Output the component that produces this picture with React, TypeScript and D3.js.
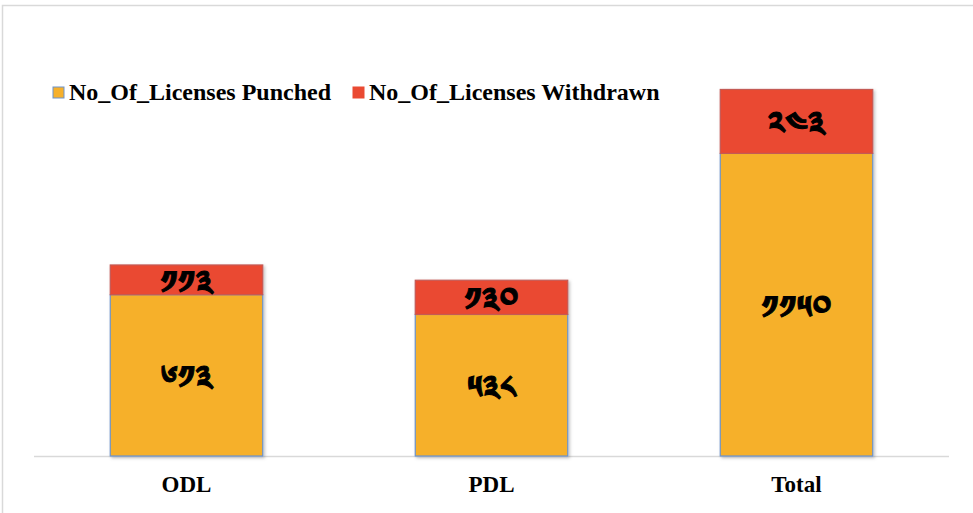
import React from "react";
import * as d3 from "d3";

const categories = ["ODL", "PDL", "Total"];
const punched = [613, 538, 1150];
const withdrawn = [113, 130, 243];
const punchedLabels = ["༦༡༣", "༥༣༨", "༡༡༥༠"];
const withdrawnLabels = ["༡༡༣", "༡༣༠", "༢༤༣"];
const seriesNames = ["No_Of_Licenses Punched", "No_Of_Licenses Withdrawn"];

const W = 973;
const H = 513;
const COLORS = { punched: "#F6B02B", withdrawn: "#EA4A32" };
const SERIF = "'Liberation Serif', 'Times New Roman', serif";
const TIB = "'Noto Sans Tibetan', 'Noto Serif Tibetan', 'Jomolhari', 'DejaVu Sans', sans-serif";

export default function App() {
  const x = d3
    .scaleBand<string>()
    .domain(categories)
    .range([34, 949])
    .paddingInner(0.5)
    .paddingOuter(0.25);
  const y = d3.scaleLinear().domain([0, 1600]).range([456, 35]);
  const bw = x.bandwidth();

  const numLabel = (key: string, cx: number, cy: number, txt: string) => (
    <text
      key={key}
      x={cx}
      y={cy}
      textAnchor="middle"
      dominantBaseline="central"
      fontFamily={TIB}
      fontSize={32}
      fontWeight="bold"
      fill="#000"
      stroke="#000"
      strokeWidth={1}
    >
      {txt}
    </text>
  );

  return (
    <svg
      width={W}
      height={H}
      style={{ position: "absolute", left: 0, top: 0, background: "#fff" }}
    >
      <defs>
        <filter id="shadow" x="-10%" y="-10%" width="130%" height="130%">
          <feDropShadow dx="1.5" dy="1.5" stdDeviation="1.5" floodColor="#000" floodOpacity="0.25" />
        </filter>
      </defs>
      {/* outer frame */}
      <rect x={2.5} y={5.5} width={1000} height={600} fill="none" stroke="#d9d9d9" strokeWidth={1.5} />

      {/* baseline */}
      <line x1={34} x2={949} y1={y(0) + 0.5} y2={y(0) + 0.5} stroke="#d9d9d9" strokeWidth={1.5} />

      {categories.map((c, i) => {
        const x0 = x(c)!;
        const p = punched[i];
        const w = withdrawn[i];
        return (
          <g key={c}>
            <g filter="url(#shadow)">
              <rect
                x={x0}
                y={y(p)}
                width={bw}
                height={y(0) - y(p)}
                fill={COLORS.punched}
                stroke="#6C93CC"
                strokeWidth={1.2}
              />
              <rect
                x={x0}
                y={y(p + w)}
                width={bw}
                height={y(p) - y(p + w)}
                fill={COLORS.withdrawn}
                stroke="#C45A55"
                strokeWidth={1.2}
              />
            </g>
            {numLabel("p", x0 + bw / 2, (y(0) + y(p)) / 2 + 11, punchedLabels[i])}
            {numLabel("w", x0 + bw / 2, (y(p) + y(p + w)) / 2 + 11, withdrawnLabels[i])}
            <text
              x={x0 + bw / 2}
              y={492}
              textAnchor="middle"
              fontFamily={SERIF}
              fontWeight="bold"
              fontSize={23}
              fill="#000"
            >
              {c}
            </text>
          </g>
        );
      })}

      {/* legend */}
      {seriesNames.map((s, i) => {
        const lx = i === 0 ? 53 : 353;
        return (
          <g key={s}>
            <rect
              x={lx}
              y={87}
              width={11}
              height={11}
              fill={i === 0 ? COLORS.punched : COLORS.withdrawn}
              stroke={i === 0 ? "#6C93CC" : COLORS.withdrawn}
              strokeWidth={1}
            />
            <text
              x={lx + 16}
              y={100}
              fontFamily={SERIF}
              fontWeight="bold"
              fontSize={24}
              fill="#000"
            >
              {s}
            </text>
          </g>
        );
      })}
    </svg>
  );
}
